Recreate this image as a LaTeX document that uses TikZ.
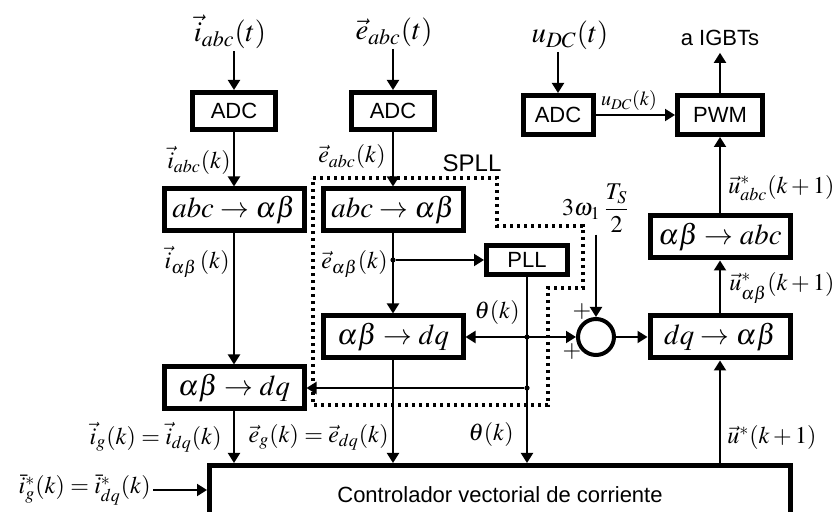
\documentclass[tikz,border=0pt]{standalone}
\usepackage{mathptmx}
\usepackage[no-math]{fontspec}
\setmainfont{Liberation Serif}
\setsansfont{Liberation Sans}
\usetikzlibrary{arrows.meta, positioning, calc}

\begin{document}
\begin{tikzpicture}[
    x=0.5pt, y=-0.5pt,
    blk/.style={rectangle, draw, line width=2.5pt, inner sep=0pt,
                minimum width=70pt, minimum height=21pt, font=\Large},
    dig/.style={rectangle, draw, line width=2.5pt, inner sep=0pt,
                minimum width=41.5pt, minimum height=18.5pt,
                font=\sffamily\fontsize{11}{13}\selectfont},
    lbl/.style={inner sep=1pt, font=\large},
    sig/.style={line width=1pt, >={Triangle[length=5pt,width=6pt]}},
    junc/.style={circle, fill, inner sep=0pt, minimum size=2.6pt},
    spll/.style={line width=1.6pt, dash pattern=on 1.6pt off 1.9pt}
]
\path[use as bounding box, clip] (0,0) rectangle (836,512);

% --- Measured inputs ---
\node[lbl, font=\Large] (l_it) at (230,32) {$\vec{i}_{abc}(t)$};
\node[lbl, font=\Large] (l_et) at (394,32) {$\vec{e}_{abc}(t)$};
\node[lbl, font=\Large] (l_ut) at (570,35) {$u_{DC}(t)$};

% --- Converters ---
\node[dig] (adc_i) at (234,111) {ADC};
\node[dig] (adc_e) at (393,111) {ADC};
\node[dig, minimum width=35pt, minimum height=19.5pt] (adc_u) at (558,115) {ADC};
\node[dig, minimum width=42.5pt, minimum height=19.5pt] (pwm) at (720,115) {PWM};
\node[font=\sffamily\fontsize{11}{13}\selectfont] (igbt) at (720,38) {a IGBTs};

% --- Transformation blocks ---
\node[blk] (abc_i) at (234,210) {$abc\rightarrow\alpha\beta$};
\node[blk] (abc_e) at (393,210) {$abc\rightarrow\alpha\beta$};
\node[blk] (dq_e) at (393,337) {$\alpha\beta\rightarrow dq$};
\node[blk] (dq_i) at (234,388) {$\alpha\beta\rightarrow dq$};
\node[blk, minimum width=40.5pt, minimum height=14.5pt,
      font=\sffamily\fontsize{11}{13}\selectfont] (pll) at (527,260) {PLL};
\node[circle, draw, line width=2pt, minimum size=18pt, inner sep=0pt] (sum) at (596,337) {};
\node[blk] (dqab) at (720,337) {$dq\rightarrow\alpha\beta$};
\node[blk] (abinv) at (720,237) {$\alpha\beta\rightarrow abc$};
\node[blk, minimum width=290.5pt, minimum height=29.5pt,
      font=\sffamily\fontsize{11}{13}\selectfont] (ctrl) at (500,495)
    {Controlador vectorial de corriente};

% --- SPLL outline ---
\draw[spll] (313,178) -- (497,178) -- (497,226) -- (583,226) -- (583,288)
    -- (548,288) -- (548,405) -- (313,405) -- cycle;
\node[font=\sffamily\large] (spll_t) at (472,163) {SPLL};

% --- Signal labels ---
\node[lbl, anchor=east] (l_ik) at (233,160) {$\vec{i}_{abc}(k)$};
\node[lbl, anchor=east] (l_ek) at (388,157) {$\vec{e}_{abc}(k)$};
\node[lbl, anchor=east] (l_iab) at (232,262) {$\vec{i}_{\alpha\beta}\,(k)$};
\node[lbl, anchor=east] (l_eab) at (390,264) {$\vec{e}_{\alpha\beta}(k)$};
\node[lbl, anchor=east] (l_th1) at (522,313) {$\theta(k)$};
\node[lbl, anchor=east] (l_th2) at (516,435) {$\theta(k)$};
\node[lbl, anchor=east] (l_ig) at (224,437) {$\vec{i}_g(k)=\vec{i}_{dq}(k)$};
\node[lbl, anchor=east] (l_eg) at (391,437) {$\vec{e}_g(k)=\vec{e}_{dq}(k)$};
\node[lbl, anchor=east] (l_iref) at (153,490) {$\bar{i}^*_g(k)=\bar{i}^*_{dq}(k)$};
\node[lbl, anchor=west] (l_uabc) at (726,188) {$\vec{u}^*_{abc}(k+1)$};
\node[lbl, anchor=west] (l_uab) at (727,288) {$\vec{u}^*_{\alpha\beta}(k+1)$};
\node[lbl, anchor=west] (l_u) at (725,438) {$\vec{u}^*(k+1)$};
\node[lbl, font=\normalsize] (l_uk) at (629,101) {$u_{DC}(k)$};
\node[lbl] (gain) at (596,208) {$\displaystyle 3\omega_1\,\frac{T_S}{2}$};
\node[font=\large] (p_top) at (582,312) {$+$};
\node[font=\large] (p_bot) at (572,352) {$+$};

% --- Junctions ---
\node[junc] (j_eab) at (abc_e.south |- pll.west) {};
\node[junc] (j_th1) at (pll.south |- dq_e.east) {};
\node[junc] (j_th2) at (pll.south |- dq_i.east) {};

% --- Connections ---
\draw[sig, ->] (l_it.south -| adc_i.north) -- (adc_i.north);
\draw[sig, ->] (l_et.south -| adc_e.north) -- (adc_e.north);
\draw[sig, ->] (l_ut.south -| adc_u.north) -- (adc_u.north);
\draw[sig, ->] (adc_i) -- (abc_i);
\draw[sig, ->] (abc_i) -- (dq_i);
\draw[sig, ->] (adc_e) -- (abc_e);
\draw[sig, ->] (abc_e) -- (dq_e);
\draw[sig, ->] (adc_u) -- (pwm);
\draw[sig, ->] (pwm.north) -- (pwm.north |- igbt.south);
\draw[sig, ->] (abinv) -- (pwm);
\draw[sig, ->] (dqab) -- (abinv);
\draw[sig, ->] (sum) -- (dqab);
\draw[sig, ->] (gain.south -| sum.north) -- (sum.north);
\draw[sig, <->] (dq_e) -- (sum);
\draw[sig, ->] (j_eab) -- (pll);
\draw[sig, ->] (pll.south) -- (pll.south |- ctrl.north);
\draw[sig, ->] (j_th2) -- (dq_i.east);
\draw[sig, ->] (dq_i.south) -- (dq_i.south |- ctrl.north);
\draw[sig, ->] (dq_e.south) -- (dq_e.south |- ctrl.north);
\draw[sig, ->] (dqab.south |- ctrl.north) -- (dqab.south);
\draw[sig, ->] (l_iref.east) -- (l_iref.east -| ctrl.west);

\end{tikzpicture}
\end{document}
